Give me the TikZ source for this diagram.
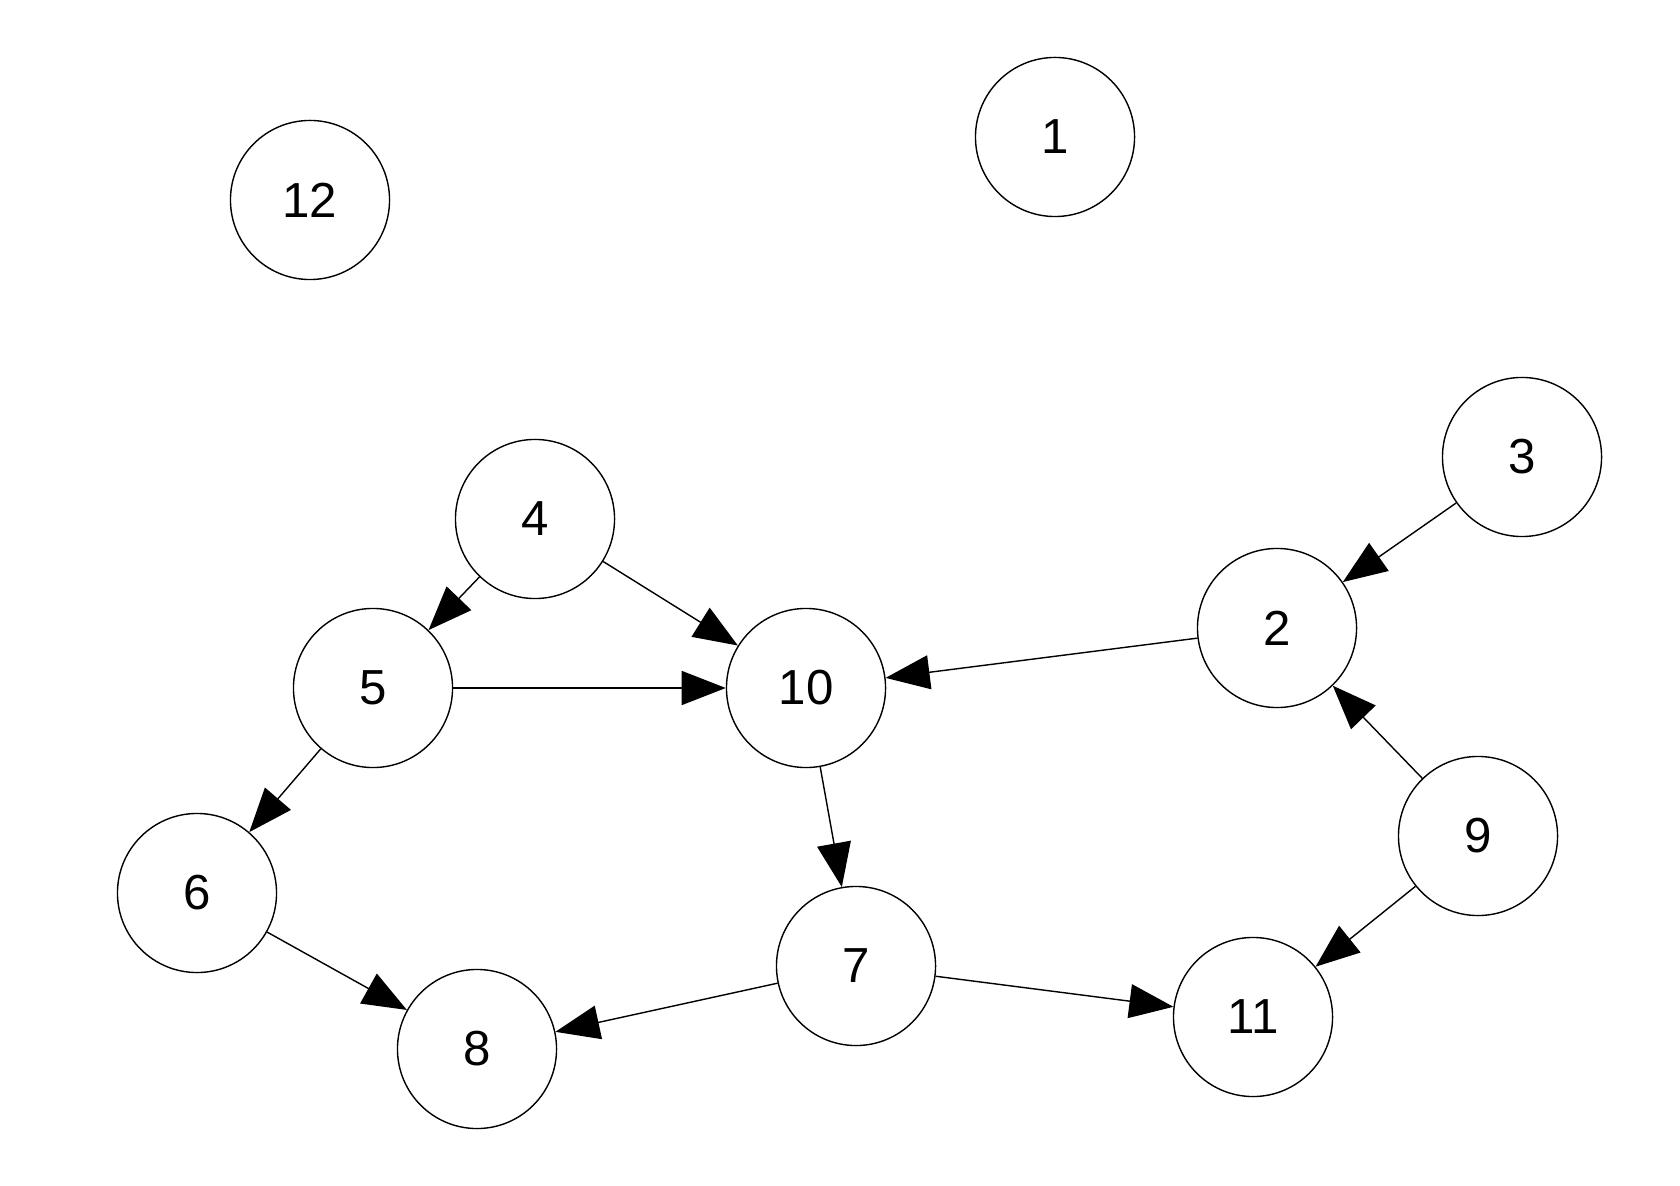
\documentclass[tikz,border=0pt]{standalone}
\usepackage{fontspec}
\setmainfont{Liberation Sans}
\usetikzlibrary{arrows.meta}
\begin{document}
\begin{tikzpicture}[x=0.01cm,y=-0.01cm,
  vtx/.style={draw=black,circle,line width=0.4pt,minimum size=1.59cm,inner sep=0pt,font=\fontsize{14}{16}\selectfont},
  edge/.style={line width=0.4pt,-{Triangle[length=0.44cm,width=0.34cm]}}]
\useasboundingbox (0,0) rectangle (1680,1186);
\fill[white] (0,0) rectangle (1680,1186);
\node[vtx] (n1) at (1055,137) {1};
\node[vtx] (n12) at (310,200) {12};
\node[vtx] (n3) at (1522,457) {3};
\node[vtx] (n4) at (535,519) {4};
\node[vtx] (n2) at (1277,628) {2};
\node[vtx] (n5) at (373,688) {5};
\node[vtx] (n10) at (806,688) {10};
\node[vtx] (n9) at (1478,836) {9};
\node[vtx] (n6) at (197,893) {6};
\node[vtx] (n7) at (856,966) {7};
\node[vtx] (n11) at (1253,1017) {11};
\node[vtx] (n8) at (477,1049) {8};
\draw[edge] (n4) -- (n5);
\draw[edge] (n4) -- (n10);
\draw[edge] (n5) -- (n10);
\draw[edge] (n2) -- (n10);
\draw[edge] (n3) -- (n2);
\draw[edge] (n9) -- (n2);
\draw[edge] (n9) -- (n11);
\draw[edge] (n10) -- (n7);
\draw[edge] (n5) -- (n6);
\draw[edge] (n6) -- (n8);
\draw[edge] (n7) -- (n8);
\draw[edge] (n7) -- (n11);
\end{tikzpicture}
\end{document}
